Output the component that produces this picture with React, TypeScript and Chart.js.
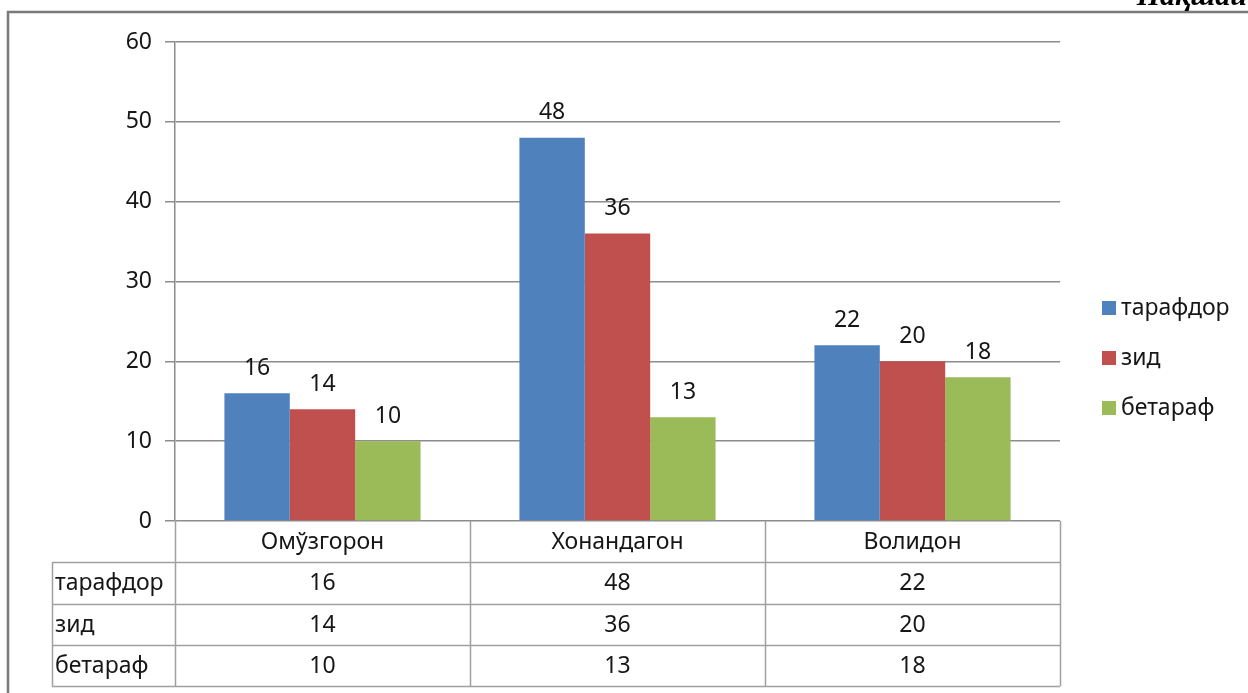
import React, { useEffect, useRef } from "react";
import { Chart, registerables } from "chart.js";

Chart.register(...registerables);

const categories = ["Омўзгорон", "Хонандагон", "Волидон"];
const seriesNames = ["тарафдор", "зид", "бетараф"];
const tarafdor = [16, 48, 22];
const zid = [14, 36, 20];
const betaraf = [10, 13, 18];
const seriesColors = ["#4F81BD", "#C0504D", "#9BBB59"];
const yTicks = [0, 10, 20, 30, 40, 50, 60];
const cornerTitle = "Нақшаи";

const FONT = '"Noto Sans", "Open Sans", sans-serif';
const FS = 23;
const TEXT = "#161616";

const extrasPlugin = {
  id: "extras",
  beforeDraw(chart: any) {
    const ctx = chart.ctx;
    ctx.save();
    ctx.fillStyle = "#ffffff";
    ctx.fillRect(0, 0, chart.width, chart.height);
    // frame
    ctx.strokeStyle = "#7a7a7a";
    ctx.lineWidth = 2.5;
    ctx.beginPath();
    ctx.moveTo(8, chart.height);
    ctx.lineTo(8, 12);
    ctx.lineTo(chart.width, 12);
    ctx.stroke();
    // corner title
    ctx.fillStyle = "#000";
    ctx.font = 'italic bold 30px "Liberation Serif", serif';
    ctx.textAlign = "right";
    ctx.textBaseline = "alphabetic";
    ctx.fillText(cornerTitle, 1247, 5);
    ctx.restore();
  },
  afterDatasetsDraw(chart: any) {
    const ctx = chart.ctx;
    ctx.save();
    ctx.font = `${FS}px ${FONT}`;
    ctx.fillStyle = TEXT;
    ctx.textAlign = "center";
    ctx.textBaseline = "middle";
    chart.data.datasets.forEach((ds: any, di: number) => {
      const meta = chart.getDatasetMeta(di);
      meta.data.forEach((bar: any, i: number) => {
        ctx.fillText(String(ds.data[i]), bar.x, bar.y - 25);
      });
    });
    ctx.restore();
  },
  afterDraw(chart: any) {
    const ctx = chart.ctx;
    const area = chart.chartArea;
    const n = categories.length;
    const catW = (area.right - area.left) / n;
    const rowH = 41.3;
    const top = area.bottom;
    const labelLeft = 52;
    const rows = chart.data.datasets.length;
    const bottom = top + rowH * (rows + 1);
    ctx.save();
    ctx.strokeStyle = "#a0a0a0";
    ctx.lineWidth = 1.5;
    ctx.beginPath();
    for (let r = 1; r <= rows + 1; r++) {
      const y = Math.round(top + rowH * r) + 0.5;
      ctx.moveTo(labelLeft, y);
      ctx.lineTo(area.right, y);
    }
    for (let c = 0; c <= n; c++) {
      const x = Math.round(area.left + catW * c) + 0.5;
      ctx.moveTo(x, top);
      ctx.lineTo(x, bottom);
    }
    ctx.moveTo(labelLeft + 0.5, top + rowH);
    ctx.lineTo(labelLeft + 0.5, bottom);
    ctx.stroke();

    ctx.fillStyle = TEXT;
    ctx.font = `${FS}px ${FONT}`;
    ctx.textBaseline = "middle";
    ctx.textAlign = "center";
    categories.forEach((c, i) => {
      ctx.fillText(c, area.left + catW * (i + 0.5), top + rowH * 0.5 + 1);
    });
    chart.data.datasets.forEach((ds: any, r: number) => {
      const cy = top + rowH * (r + 1.5) + 1;
      ctx.textAlign = "left";
      ctx.fillText(ds.label, labelLeft + 3, cy);
      ctx.textAlign = "center";
      ds.data.forEach((v: number, i: number) => {
        ctx.fillText(String(v), area.left + catW * (i + 0.5), cy);
      });
    });

    // legend
    const lx = 1102;
    const ly0 = 308;
    const lgap = 50;
    chart.data.datasets.forEach((ds: any, r: number) => {
      const cy = ly0 + lgap * r;
      ctx.fillStyle = ds.backgroundColor;
      ctx.fillRect(lx, cy - 7, 14, 14);
      ctx.fillStyle = TEXT;
      ctx.textAlign = "left";
      ctx.fillText(ds.label, lx + 19, cy);
    });
    ctx.restore();
  },
};

export default function App() {
  const ref = useRef<HTMLCanvasElement | null>(null);
  useEffect(() => {
    if (!ref.current) return;
    const chart = new Chart(ref.current, {
      type: "bar",
      data: {
        labels: categories,
        datasets: [tarafdor, zid, betaraf].map((d, i) => ({
          label: seriesNames[i],
          data: d,
          backgroundColor: seriesColors[i],
          borderWidth: 0,
          categoryPercentage: 0.665,
          barPercentage: 1,
        })),
      },
      options: {
        animation: false,
        responsive: false,
        events: [],
        layout: { padding: { left: 0, top: 42, right: 188, bottom: 172 } },
        plugins: {
          legend: { display: false },
          tooltip: { enabled: false },
          title: { display: false },
        },
        scales: {
          x: { display: false },
          y: {
            min: 0,
            max: 60,
            afterBuildTicks: (s: any) => {
              s.ticks = yTicks.map((v) => ({ value: v }));
            },
            afterFit: (s: any) => {
              s.width = 175;
            },
            grid: { color: "#8c8c8c", lineWidth: 1.5, tickLength: 10, drawTicks: true },
            border: { display: true, color: "#8c8c8c", width: 1.5 },
            ticks: {
              font: { size: FS, family: FONT },
              color: TEXT,
              padding: 13,
            },
          },
        },
      },
      plugins: [extrasPlugin],
    } as any);
    return () => chart.destroy();
  }, []);
  return (
    <div style={{ position: "fixed", left: 0, top: 0, width: 1248, height: 693, background: "#fff" }}>
      <canvas ref={ref} width={1248} height={693} style={{ display: "block" }} />
    </div>
  );
}
